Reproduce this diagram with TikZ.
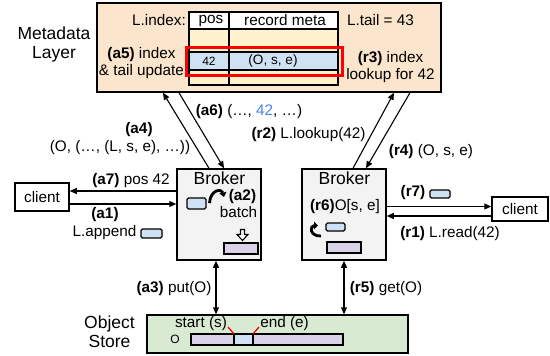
\documentclass[tikz,border=0pt]{standalone}
\usepackage{fontspec}
\setmainfont{Liberation Sans}
\usetikzlibrary{arrows.meta}
\definecolor{peach}{HTML}{FCE5CD}
\definecolor{cream}{HTML}{FFF2CC}
\definecolor{chipblue}{HTML}{CFE2F3}
\definecolor{chippurple}{HTML}{D9D2E9}
\definecolor{storegreen}{HTML}{D9EAD3}
\definecolor{brokergray}{HTML}{F3F3F3}
\definecolor{numblue}{HTML}{4A86E8}
\tikzset{
  lbl/.style={font=\fontsize{15.3}{17}\selectfont, inner sep=0pt, align=center},
  big/.style={font=\fontsize{17.5}{20}\selectfont, inner sep=0pt, align=center},
  boxd/.style={draw, line width=1.5pt, inner sep=0pt},
  arr/.style={line width=1.1pt, -{Triangle[length=7pt,width=6pt]}},
  darr/.style={line width=1.1pt, {Triangle[length=7pt,width=6pt]}-{Triangle[length=7pt,width=6pt]}},
  bluechip/.style={draw, line width=1.3pt, fill=chipblue, rounded corners=1.5pt},
  purplechip/.style={draw, line width=1.3pt, fill=chippurple},
}
\begin{document}
\begin{tikzpicture}[x=1pt, y=-1pt]
\useasboundingbox (0,0) rectangle (550,356);

% ---------- metadata layer ----------
\node[boxd, fill=peach, minimum width=344pt, minimum height=89pt] (meta) at (269,47.5) {};
\node[big] (metalbl) at (54,44) {Metadata\\[-1pt]Layer};

% index table
\fill[white] (189,12) rectangle (338,29);
\fill[cream] (189,29) rectangle (338,52);
\fill[chipblue] (189,52) rectangle (338,70);
\fill[cream] (189,70) rectangle (338,85);
\draw[line width=1.2pt] (189,12) rectangle (338,85);
\draw[line width=1.2pt] (189,29) -- (338,29) (189,52) -- (338,52) (189,70) -- (338,70)
  (229,12) -- (229,85);
\draw[red, line width=3pt] (186,47) rectangle (342,75);
\node[lbl, anchor=east] (idxlbl) at (186,20.5) {L.index:};
\node[lbl] (poshdr) at (211,20.5) {pos};
\node[lbl] (methdr) at (285,20.5) {record meta};
\node[font=\fontsize{12}{14}\selectfont, inner sep=0pt] (pos42) at (209,61.5) {42};
\node[font=\fontsize{13.6}{15}\selectfont, inner sep=0pt] (ose) at (273,61) {(O, s, e)};
\node[lbl] (tail) at (380.5,20.5) {L.tail = 43};
\node[lbl] (a5) at (141.5,63.5) {\textbf{(a5)} index\\\& tail update};
\node[lbl] (r3) at (390.5,67) {\textbf{(r3)} index\\lookup for 42};

% ---------- brokers ----------
\node[boxd, fill=brokergray, minimum width=84pt, minimum height=91pt] (bl) at (219,214.5) {};
\node[boxd, fill=brokergray, minimum width=84pt, minimum height=91pt] (br) at (344,214.5) {};
\node[big] (blname) at (219.5,178) {Broker};
\node[big] (brname) at (344.5,178) {Broker};

% left broker contents: record batching
\draw[bluechip] (187,198) rectangle (206,209);
\draw[line width=2.8pt, -{Triangle[length=4.5pt,width=7pt]}]
  (209.5,203) .. controls (210.5,189) and (222,188.5) .. (224,197);
\node[lbl] (a2) at (242.5,197) {\textbf{(a2)}};
\node[lbl] (batch) at (238.5,212) {batch};
\draw[line width=1.1pt, fill=white] (240.5,229.5) -- (244.5,229.5) -- (244.5,234.5) -- (248,234.5)
  -- (242.5,240.5) -- (237,234.5) -- (240.5,234.5) -- cycle;
\draw[purplechip] (224,243) rectangle (258,254);

% right broker contents: range extraction
\node[lbl] (r6) at (345,207) {\textbf{(r6)}O[s, e]};
\draw[line width=2.8pt, -{Triangle[length=4pt,width=7.5pt]}]
  (321,236) .. controls (309.5,236.5) and (309.5,225.5) .. (318,225.5);
\draw[bluechip] (326,223) rectangle (345,231);
\draw[purplechip] (327,242) rectangle (361,253);

% ---------- clients ----------
\node[boxd, fill=white, minimum width=54pt, minimum height=28pt, font=\fontsize{15.3}{17}\selectfont] (cl) at (42,197) {client};
\node[boxd, fill=white, minimum width=56pt, minimum height=24pt, font=\fontsize{15.3}{17}\selectfont] (cr) at (520,209) {client};

% ---------- object store ----------
\node[boxd, fill=storegreen, minimum width=261pt, minimum height=38pt] (os) at (277.5,334) {};
\node[big] (oslbl) at (109.5,332) {Object\\[-1pt]Store};
\draw[purplechip] (191,334) rectangle (343,345);
\draw[line width=1.3pt, fill=chipblue] (234,334) rectangle (253,345);
\node[font=\fontsize{12}{14}\selectfont, inner sep=0pt] (objO) at (175,339.5) {O};
\node[lbl] (startlbl) at (201,324) {start (s)};
\node[lbl] (endlbl) at (284.5,324) {end (e)};
\draw[red, line width=1.3pt] (228,327) -- (234,334) (259,327) -- (253,334);

% ---------- append path ----------
\draw[arr] (bl.west |- 0,191) -- (cl.east |- 0,191);
\draw[arr] (cl.east |- 0,204) -- (bl.west |- 0,204);
\node[lbl] (a7) at (131,180.5) {\textbf{(a7)} pos 42};
\node[lbl] (a1) at (105,215) {\textbf{(a1)}};
\node[lbl] (append) at (104.5,233) {L.append};
\draw[bluechip] (141,229) rectangle (162,238);
\draw[arr] (209,0 |- bl.north) -- (163,0 |- meta.south);
\draw[arr] (179,0 |- meta.south) -- (224,0 |- bl.north);
\node[lbl] (a4) at (139,130) {\textbf{(a4)}};
\node[lbl] (a4txt) at (120,148) {(O, (\dots, (L, s, e), \dots))};
\node[lbl] (a6) at (249,112) {\textbf{(a6)} (\dots, \textcolor{numblue}{42}, \dots)};
\draw[darr] (bl.south -| 216,0) -- (os.north -| 216,0);
\node[lbl] (a3) at (174,289) {\textbf{(a3)} put(O)};

% ---------- read path ----------
\draw[arr] (br.east |- 0,206.5) -- (cr.west |- 0,206.5);
\draw[arr] (cr.west |- 0,216) -- (br.east |- 0,216);
\node[lbl] (r7) at (413,193) {\textbf{(r7)}};
\draw[bluechip] (430,190) rectangle (450,198);
\node[lbl] (r1) at (450,234) {\textbf{(r1)} L.read(42)};
\draw[arr] (353,0 |- br.north) -- (394,0 |- meta.south);
\draw[arr] (410,0 |- meta.south) -- (366,0 |- br.north);
\node[lbl] (r2) at (308.5,135) {\textbf{(r2)} L.lookup(42)};
\node[lbl] (r4) at (431,152) {\textbf{(r4)} (O, s, e)};
\draw[darr] (br.south) -- (br.south |- os.north);
\node[lbl] (r5) at (386,289) {\textbf{(r5)} get(O)};
\end{tikzpicture}
\end{document}
